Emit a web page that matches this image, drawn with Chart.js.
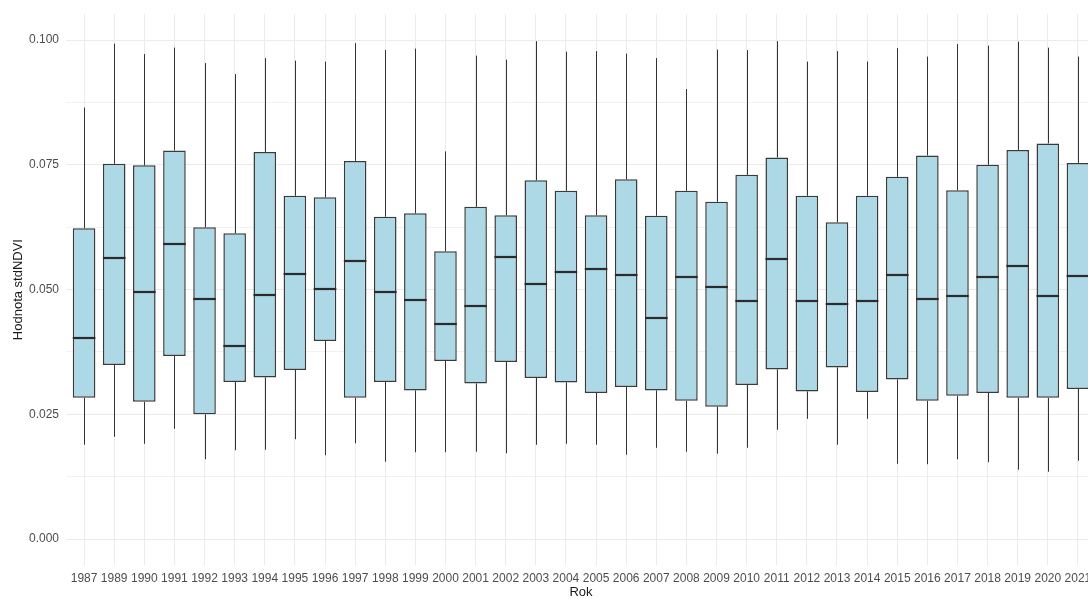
<!DOCTYPE html>
<html>
<head>
<meta charset="utf-8">
<script src="https://cdn.jsdelivr.net/npm/chart.js@4"></script>
<style>
  html, body { margin: 0; padding: 0; overflow: hidden; background: #fff; }
  #wrap { position: absolute; left: 0; top: 0; width: 1100px; height: 599px; }
</style>
</head>
<body>
<div id="wrap"><canvas id="boxChart"></canvas></div>
<script>
// stdNDVI per year
const years = [1987, 1989, 1990, 1991, 1992, 1993, 1994, 1995, 1996, 1997, 1998, 1999, 2000, 2001, 2002, 2003, 2004,
    2005, 2006, 2007, 2008, 2009, 2010, 2011, 2012, 2013, 2014, 2015, 2016, 2017, 2018, 2019, 2020, 2021];
const lowWhisker = [0.0189, 0.0205, 0.0191, 0.0221, 0.0160, 0.0178, 0.0179, 0.0200, 0.0168, 0.0192, 0.0155, 0.0174, 0.0174, 0.0175, 0.0172, 0.0189, 0.0191,
    0.0189, 0.0169, 0.0183, 0.0175, 0.0171, 0.0183, 0.0219, 0.0241, 0.0189, 0.0241, 0.0151, 0.0150, 0.0160, 0.0154, 0.0139, 0.0135, 0.0157];
const q1 = [0.0283, 0.0349, 0.0275, 0.0367, 0.0250, 0.0315, 0.0324, 0.0339, 0.0397, 0.0283, 0.0315, 0.0298, 0.0357, 0.0312, 0.0355, 0.0323, 0.0314,
    0.0293, 0.0305, 0.0298, 0.0277, 0.0265, 0.0309, 0.0340, 0.0296, 0.0344, 0.0295, 0.0320, 0.0277, 0.0287, 0.0293, 0.0283, 0.0283, 0.0301];
const median = [0.0402, 0.0563, 0.0496, 0.0592, 0.0481, 0.0386, 0.0489, 0.0532, 0.0501, 0.0558, 0.0496, 0.0480, 0.0431, 0.0468, 0.0566, 0.0511, 0.0535,
    0.0541, 0.0529, 0.0444, 0.0525, 0.0505, 0.0477, 0.0562, 0.0477, 0.0472, 0.0477, 0.0529, 0.0481, 0.0487, 0.0525, 0.0548, 0.0487, 0.0527];
const q3 = [0.0623, 0.0752, 0.0749, 0.0779, 0.0625, 0.0613, 0.0776, 0.0688, 0.0685, 0.0758, 0.0646, 0.0653, 0.0577, 0.0666, 0.0649, 0.0719, 0.0698,
    0.0649, 0.0721, 0.0648, 0.0698, 0.0676, 0.0730, 0.0765, 0.0688, 0.0635, 0.0688, 0.0726, 0.0769, 0.0699, 0.0750, 0.0780, 0.0793, 0.0754];
const highWhisker = [0.0865, 0.0993, 0.0972, 0.0985, 0.0954, 0.0932, 0.0964, 0.0959, 0.0957, 0.0994, 0.0980, 0.0983, 0.0777, 0.0969, 0.0961, 0.0998, 0.0977,
    0.0978, 0.0973, 0.0964, 0.0902, 0.0981, 0.0980, 0.0998, 0.0957, 0.0978, 0.0957, 0.0984, 0.0967, 0.0992, 0.0989, 0.0997, 0.0985, 0.0967];
const yTicks = [0, 0.0125, 0.025, 0.0375, 0.05, 0.0625, 0.075, 0.0875, 0.1];

const font = "'Liberation Sans', Arial, sans-serif";

// whiskers behind the boxes, medians on top
const boxParts = {
    id: 'boxParts',
    beforeDatasetsDraw(chart) {
        const { ctx, scales: { x, y } } = chart;
        ctx.save();
        ctx.strokeStyle = '#333333';
        ctx.lineWidth = 1;
        years.forEach((yr, i) => {
            const px = Math.round(x.getPixelForValue(i)) + 0.5;
            ctx.beginPath();
            ctx.moveTo(px, y.getPixelForValue(highWhisker[i]));
            ctx.lineTo(px, y.getPixelForValue(q3[i]));
            ctx.moveTo(px, y.getPixelForValue(q1[i]));
            ctx.lineTo(px, y.getPixelForValue(lowWhisker[i]));
            ctx.stroke();
        });
        ctx.restore();
    },
    afterDatasetsDraw(chart) {
        const { ctx, scales: { x, y } } = chart;
        const bars = chart.getDatasetMeta(0).data;
        ctx.save();
        ctx.strokeStyle = '#2b2b2b';
        ctx.lineWidth = 2.2;
        years.forEach((yr, i) => {
            const px = x.getPixelForValue(i);
            const half = bars[i].width / 2;
            const py = Math.round(y.getPixelForValue(median[i]));
            ctx.beginPath();
            ctx.moveTo(px - half, py);
            ctx.lineTo(px + half, py);
            ctx.stroke();
        });
        ctx.restore();
    }
};

new Chart(document.getElementById('boxChart'), {
    type: 'bar',
    data: {
        datasets: [{
            data: years.map((yr, i) => ({ x: i, y: [q1[i], q3[i]] })),
            backgroundColor: '#ADD8E6',
            borderColor: '#3a3a3a',
            borderWidth: 1.5,
            borderSkipped: false,
            barPercentage: 0.75,
            categoryPercentage: 1
        }]
    },
    options: {
        responsive: true,
        maintainAspectRatio: false,
        devicePixelRatio: 1,
        animation: false,
        layout: { padding: { left: 0, top: 14, right: 4, bottom: 0 } },
        plugins: { legend: { display: false }, tooltip: { enabled: false } },
        scales: {
            x: {
                type: 'linear',
                offset: false,
                min: -0.6,
                max: years.length - 1 + 0.6,
                afterBuildTicks: (scale) => { scale.ticks = years.map((yr, i) => ({ value: i })); },
                afterFit: (scale) => { scale.height = 34; },
                ticks: {
                    autoSkip: false,
                    maxRotation: 0,
                    padding: 6,
                    color: '#4d4d4d',
                    font: { family: font, size: 12 },
                    callback: (v) => years[v]
                },
                grid: { color: '#ebebeb', lineWidth: 1, drawTicks: false, offset: false },
                border: { display: false },
                title: {
                    display: true,
                    text: 'Rok',
                    color: '#1a1a1a',
                    font: { family: font, size: 13, lineHeight: 1 },
                    padding: { top: 0, bottom: 0 }
                }
            },
            y: {
                min: -0.0052,
                max: 0.1052,
                afterBuildTicks: (scale) => { scale.ticks = yTicks.map(v => ({ value: v })); },
                afterFit: (scale) => { scale.width = 66; },
                ticks: {
                    padding: 7,
                    color: '#4d4d4d',
                    font: { family: font, size: 12 },
                    callback: (v, i) => (i % 2 === 0 ? v.toFixed(3) : '')
                },
                grid: {
                    color: '#ebebeb',
                    lineWidth: (c) => (c.index % 2 === 0 ? 1 : 0.7),
                    drawTicks: false
                },
                border: { display: false },
                title: {
                    display: true,
                    text: 'Hodnota stdNDVI',
                    color: '#1a1a1a',
                    font: { family: font, size: 13 },
                    padding: { top: 11, bottom: 0 }
                }
            }
        }
    },
    plugins: [boxParts]
});
</script>
</body>
</html>
